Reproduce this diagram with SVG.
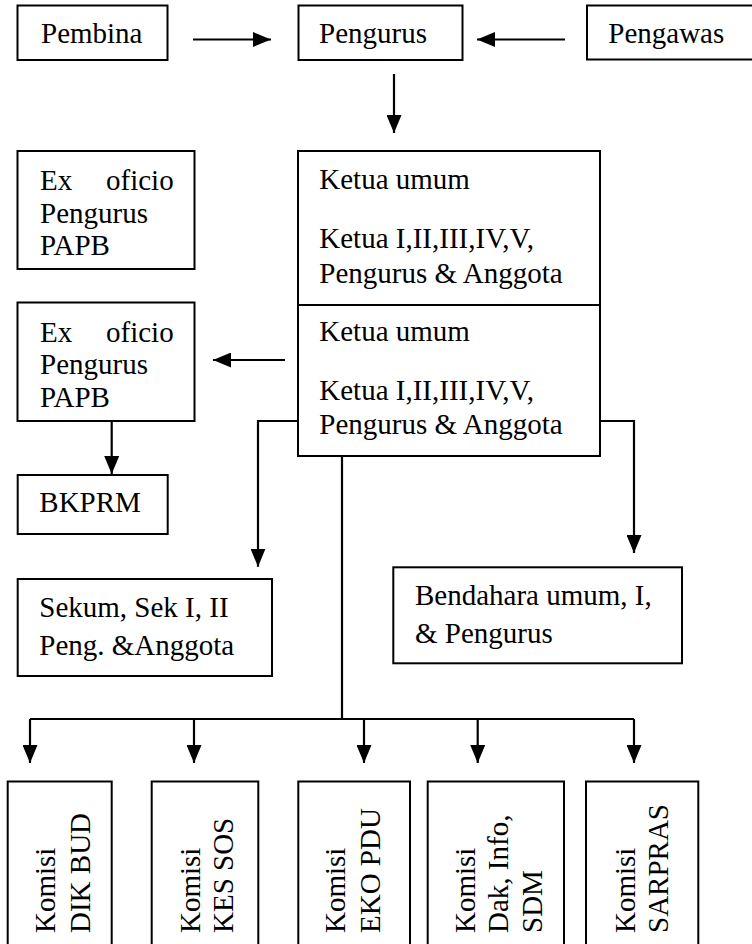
<svg xmlns="http://www.w3.org/2000/svg" width="752" height="944" viewBox="0 0 752 944">
<style>
  .box { fill: #ffffff; stroke: #000000; stroke-width: 2; }
  .t { font-family: "Liberation Serif", "Times New Roman", serif; font-size: 29px; fill: #000000; }
  .c { fill: none; stroke: #000000; stroke-width: 2.2; }
  .a { fill: none; stroke: #000000; stroke-width: 2.2; marker-end: url(#arr); }
</style>
<defs>
  <marker id="arr" markerUnits="userSpaceOnUse" markerWidth="18" markerHeight="15" refX="18" refY="7.5" orient="auto">
    <path d="M0,0 L18,7.5 L0,15 Z" fill="#000000"/>
  </marker>
</defs>
<rect width="752" height="944" fill="#ffffff"/>

<g id="connectors">
  <path class="a" d="M193,39.5 H271"/>
  <path class="a" d="M565,39.5 H477"/>
  <path class="a" d="M394,74 V133"/>
  <path class="a" d="M285,360 H213"/>
  <path class="a" d="M111.7,421 V474"/>
  <path class="a" d="M297.7,421 H258 V566.7"/>
  <path class="a" d="M600,421 H634 V553"/>
  <path class="c" d="M342,456 V719"/>
  <path class="c" d="M30,719 H634"/>
  <path class="a" d="M30,719 V763"/>
  <path class="a" d="M194,719 V763"/>
  <path class="a" d="M364,719 V763"/>
  <path class="a" d="M477.7,719 V763"/>
  <path class="a" d="M634,719 V763"/>
</g>

<g id="pembina">
  <rect class="box" x="17.5" y="5.5" width="150" height="54.5"/>
  <text class="t" x="41" y="43.3">Pembina</text>
</g>
<g id="pengurus">
  <rect class="box" x="298.5" y="5.5" width="164" height="54.5"/>
  <text class="t" x="319" y="43.3">Pengurus</text>
</g>
<g id="pengawas">
  <rect class="box" x="587" y="5.5" width="180" height="54"/>
  <text class="t" x="608.3" y="43.3">Pengawas</text>
</g>

<g id="exoficio1">
  <rect class="box" x="17.5" y="151" width="177" height="118"/>
  <text class="t"><tspan x="40" y="190">Ex</tspan><tspan x="106" y="190">oficio</tspan><tspan x="40" y="222.7">Pengurus</tspan><tspan x="40" y="255">PAPB</tspan></text>
</g>
<g id="exoficio2">
  <rect class="box" x="17.5" y="302.5" width="177" height="118.5"/>
  <text class="t"><tspan x="40" y="341.7">Ex</tspan><tspan x="106" y="341.7">oficio</tspan><tspan x="40" y="373.5">Pengurus</tspan><tspan x="40" y="406.5">PAPB</tspan></text>
</g>

<g id="ketua1">
  <rect class="box" x="298" y="151" width="302" height="154"/>
  <text class="t"><tspan x="319.3" y="189.3">Ketua umum</tspan><tspan x="319.3" y="248">Ketua I,II,III,IV,V,</tspan><tspan x="319.3" y="282.7">Pengurus &amp; Anggota</tspan></text>
</g>
<g id="ketua2">
  <rect class="box" x="298" y="305" width="302" height="151"/>
  <text class="t"><tspan x="319.3" y="341">Ketua umum</tspan><tspan x="319.3" y="400">Ketua I,II,III,IV,V,</tspan><tspan x="319.3" y="434">Pengurus &amp; Anggota</tspan></text>
</g>

<g id="bkprm">
  <rect class="box" x="17.7" y="475" width="150" height="59"/>
  <text class="t" x="39.3" y="511.7">BKPRM</text>
</g>
<g id="sekum">
  <rect class="box" x="17.7" y="579" width="254.3" height="97"/>
  <text class="t"><tspan x="39.3" y="616.7">Sekum, Sek I, II</tspan><tspan x="39.3" y="655">Peng. &amp;Anggota</tspan></text>
</g>
<g id="bendahara">
  <rect class="box" x="393.3" y="567.3" width="288.7" height="96"/>
  <text class="t"><tspan x="415" y="605">Bendahara umum, I,</tspan><tspan x="415" y="643.3">&amp; Pengurus</tspan></text>
</g>

<g id="komisi1">
  <rect class="box" x="7.7" y="781.5" width="104" height="180"/>
  <text class="t" transform="translate(55,933) rotate(-90)"><tspan x="0" y="0">Komisi</tspan><tspan x="0" y="35">DIK BUD</tspan></text>
</g>
<g id="komisi2">
  <rect class="box" x="151.7" y="781.5" width="106.6" height="180"/>
  <text class="t" transform="translate(200,933) rotate(-90)"><tspan x="0" y="0">Komisi</tspan><tspan x="0" y="33.3">KES SOS</tspan></text>
</g>
<g id="komisi3">
  <rect class="box" x="298.3" y="781.5" width="111.7" height="180"/>
  <text class="t" transform="translate(345,933) rotate(-90)"><tspan x="0" y="0">Komisi</tspan><tspan x="0" y="35">EKO PDU</tspan></text>
</g>
<g id="komisi4">
  <rect class="box" x="427.7" y="781.5" width="136.3" height="180"/>
  <text class="t" transform="translate(475,933) rotate(-90)"><tspan x="0" y="0">Komisi</tspan><tspan x="0" y="33.3">Dak, Info,</tspan><tspan x="0" y="66.7">SDM</tspan></text>
</g>
<g id="komisi5">
  <rect class="box" x="586" y="781.5" width="112.3" height="180"/>
  <text class="t" transform="translate(635,933) rotate(-90)"><tspan x="0" y="0">Komisi</tspan><tspan x="0" y="33.3">SARPRAS</tspan></text>
</g>
</svg>
